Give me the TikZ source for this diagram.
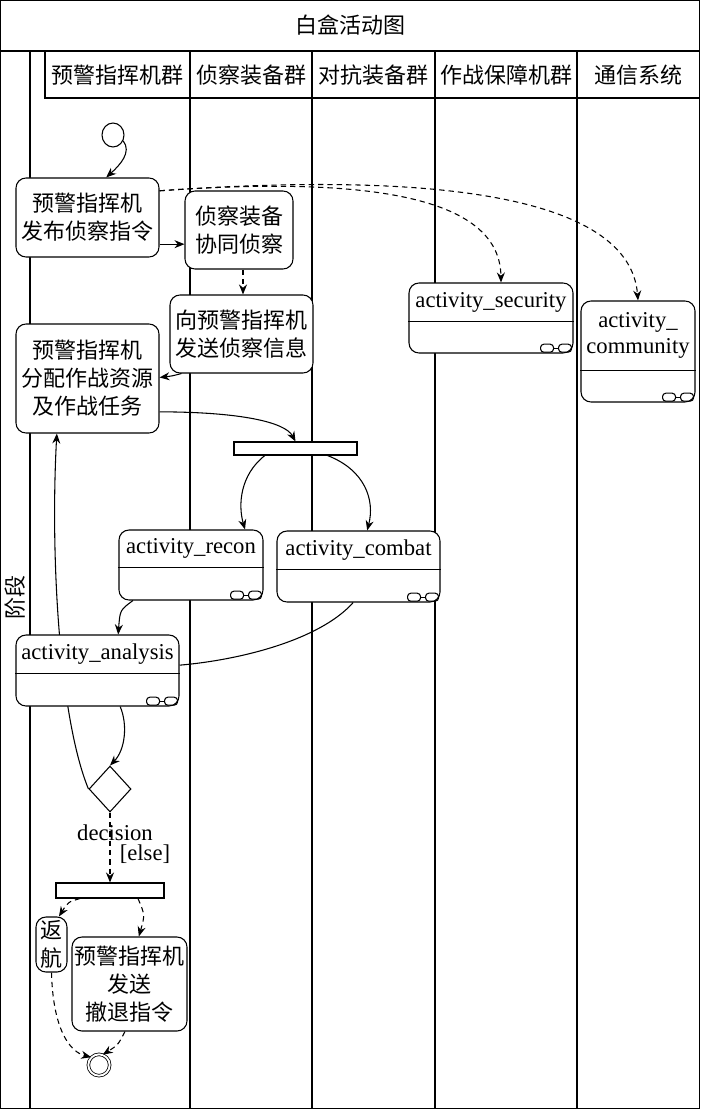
\documentclass[tikz,border=0pt]{standalone}
\usepackage{fontspec}
\setmainfont{Liberation Serif}
\newfontfamily\cjk{Noto Sans CJK SC}
\usetikzlibrary{arrows.meta,shapes.geometric,backgrounds}
\tikzset{glasses/.pic={
    \draw[rounded corners=2.5pt] (-33,-4) rectangle (-20,4);
    \draw (-20,0) -- (-15,0);
    \draw[rounded corners=2.5pt] (-15,-4) rectangle (-2,4);
}}

\begin{document}
\begin{tikzpicture}[x=0.75pt,y=-0.75pt,line width=0.8pt,
    every node/.style={font=\fontsize{17}{20}\selectfont},
    zh/.style={font=\cjk\fontsize{16.5}{21}\selectfont},
    box/.style={zh,draw,rounded corners=7.5pt,fill=white,align=center,inner sep=0pt},
    act/.style={draw,rounded corners=7.5pt,fill=white,inner sep=0pt},
    bar/.style={draw,fill=white,inner sep=0pt},
    flow/.style={-{Stealth[length=7.5pt,width=6pt]}},
    msg/.style={flow,dash pattern=on 4pt off 3pt},
    lane/.style={line width=1pt}]
\useasboundingbox (0,0) rectangle (700,1109);

    % frame and swimlanes
    \draw[lane] (0.7,0.7) rectangle (699.3,1108.3);
    \draw[lane] (0,51) -- (700,51);
    \draw[lane] (30,51) -- (30,1109);
    \draw[lane] (45,51) -- (45,98) -- (700,98);
    \draw[lane] (190,51) -- (190,1109);
    \draw[lane] (312,51) -- (312,1109);
    \draw[lane] (435,51) -- (435,1109);
    \draw[lane] (577,51) -- (577,1109);

    \node[zh] (title) at (350,25) {白盒活动图};
    \node[zh] (h1) at (117.5,75) {预警指挥机群};
    \node[zh] (h2) at (251,75) {侦察装备群};
    \node[zh] (h3) at (373.5,75) {对抗装备群};
    \node[zh] (h4) at (506,75) {作战保障机群};
    \node[zh] (h5) at (638.5,75) {通信系统};
    \node[zh,rotate=90] (stage) at (15,597) {阶段};

    % actions
    \node[draw,ellipse,inner sep=0pt,minimum width=16.5pt,minimum height=18pt] (start) at (113,135) {};
    \node[box,minimum width=107.25pt,minimum height=59.25pt] (a1) at (87.5,217.5) {预警指挥机\\发布侦察指令};
    \node[box,minimum width=81pt,minimum height=58.5pt] (b1) at (239,230) {侦察装备\\协同侦察};
    \node[box,minimum width=107.25pt,minimum height=58.5pt] (b2) at (241.5,334) {向预警指挥机\\发送侦察信息};
    \node[box,minimum width=107.25pt,minimum height=81.75pt] (a2) at (87.5,378.5) {预警指挥机\\分配作战资源\\及作战任务};
    \node[bar,minimum width=92.25pt,minimum height=9.75pt] (f1) at (295.5,448.5) {};

    \foreach \n/\x/\y/\w/\h/\s/\t in {
        sec/491/318/164/70/39/{activity\_security},
        com/638/351.5/114/101/70/{activity\_\\community},
        rec/191/565/144/70/38/{activity\_recon},
        cbt/358.5/566.5/163/71/39/{activity\_combat},
        ana/97.5/670.5/163/71/39/{activity\_analysis}}
    {
        \node[act,minimum width=\w*0.75pt,minimum height=\h*0.75pt] (\n) at (\x,\y) {};
        \node[align=center] at ([yshift=-\s*0.375pt]\n.north) {\t};
        \draw ([yshift=-\s*0.75pt]\n.north west) -- ([yshift=-\s*0.75pt]\n.north east);
        \pic at ([yshift=4pt]\n.south east) {glasses};
    }

    \node[draw,diamond,inner sep=0pt,minimum width=31.5pt,minimum height=34.5pt] (dec) at (110,789) {};
    \node (declabel) at (115,833) {decision};
    \node (elselabel) at (145,854) {[else]};
    \node[bar,minimum width=81pt,minimum height=11.25pt] (f2) at (110,890.5) {};
    \node[box,minimum width=23.25pt,minimum height=41.25pt] (fh) at (51.5,944.5) {返\\航};
    \node[box,minimum width=86.25pt,minimum height=70.5pt] (c) at (129.5,984) {预警指挥机\\发送\\撤退指令};
    \node[draw,circle,double,double distance=1.4pt,line width=0.6pt,inner sep=0pt,minimum size=16pt] (fin) at (99,1065) {};

    % draw the arrows
    \draw[flow] (start.-30) .. controls (132,152) and (120,165) .. ([xshift=14pt]a1.north);
    \draw[flow] ([yshift=-20pt]a1.east) -- ([yshift=-20pt]a1.east -| b1.west);
    \draw[msg] ([xshift=3pt]b1.south) -- ([xshift=3pt]b1.south |- b2.north);
    \draw[flow] ([xshift=9pt]b2.south west) .. controls (172,376) .. ([yshift=-40.5pt]a2.north east);
    \draw[flow] ([yshift=-25pt]a2.east) .. controls (240,412) and (285,422) .. (f1.north);
    \draw[flow] ([xshift=-23pt]f1.south) .. controls (240,475) and (238,505) .. ([xshift=40.5pt]rec.north);
    \draw[flow] ([xshift=24pt]f1.south) .. controls (365,470) and (375,500) .. ([xshift=6.5pt]cbt.north);
    \draw[flow] ([xshift=-43.5pt]rec.south) .. controls (120,610) .. ([xshift=15.5pt]ana.north);
    \draw ([xshift=-4pt]cbt.south) .. controls (320,640) and (240,660) .. ([yshift=4pt]ana.east);
    \draw[flow] ([xshift=17pt]ana.south) .. controls (128,725) and (125,750) .. (dec.north);
    \begin{scope}[on background layer]
    \draw[flow,line width=0.8pt] (dec.west) .. controls (60,720) and (50,560) .. ([xshift=-23pt]a2.south);
    \end{scope}
    \draw[msg] (dec.south) -- (f2.north);
    \draw[msg] ([xshift=-22.5pt]f2.south) .. controls (68,902) .. ([xshift=5.6pt]fh.north);
    \draw[msg] ([xshift=21pt]f2.south) .. controls (145,915) .. ([xshift=7pt]c.north);
    \draw[msg] (fh.south) .. controls (53,1030) and (70,1052) .. (fin.135);
    \draw[msg] ([xshift=-3.4pt]c.south) .. controls (118,1045) .. (fin.70);
    \draw[msg] ([yshift=-10pt]a1.north east) .. controls (380,175) and (500,200) .. ([xshift=7.5pt]sec.north);
    \draw[msg] ([yshift=-10pt]a1.north east) .. controls (450,170) and (630,200) .. (com.north);

\end{tikzpicture}
\end{document}
